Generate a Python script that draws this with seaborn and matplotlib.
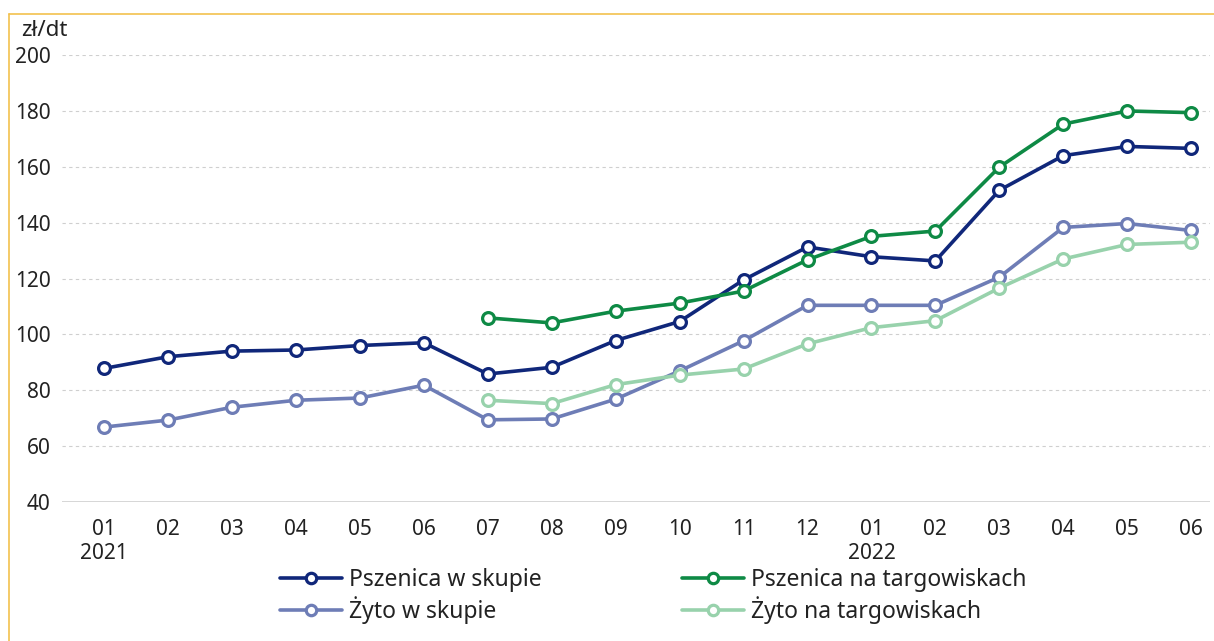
import numpy as np
import pandas as pd
import matplotlib
matplotlib.use("Agg")
import matplotlib.pyplot as plt
import seaborn as sns
from matplotlib.lines import Line2D

months = ["01", "02", "03", "04", "05", "06", "07", "08", "09", "10", "11", "12",
          "01", "02", "03", "04", "05", "06"]
years = {0: "2021", 12: "2022"}

pszenica_skup = [87.8, 92.0, 94.0, 94.4, 96.0, 97.0, 85.8, 88.2, 97.8, 104.6, 119.5, 131.3,
                 127.8, 126.3, 151.6, 164.0, 167.3, 166.6]
pszenica_targ = [np.nan] * 6 + [105.9, 104.1, 108.3, 111.2, 115.5, 126.7,
                                 135.1, 137.0, 159.9, 175.3, 180.0, 179.4]
zyto_skup = [66.8, 69.3, 73.9, 76.4, 77.2, 81.8, 69.4, 69.7, 76.8, 86.9, 97.7, 110.4,
             110.4, 110.4, 120.5, 138.3, 139.7, 137.2]
zyto_targ = [np.nan] * 6 + [76.4, 75.2, 82.0, 85.4, 87.6, 96.6,
                             102.4, 104.9, 116.6, 127.0, 132.2, 133.0]

series_names = ["Pszenica w skupie", "Pszenica na targowiskach", "Żyto w skupie", "Żyto na targowiskach"]
series_vals = [pszenica_skup, pszenica_targ, zyto_skup, zyto_targ]
colors = ["#10277A", "#0E8A45", "#6E7DB6", "#98D2AC"]

rows = []
for name, vals in zip(series_names, series_vals):
    for i, v in enumerate(vals):
        if not np.isnan(v):
            rows.append({"x": i, "val": v, "series": name})
df = pd.DataFrame(rows)

sns.set_theme(style="white")
plt.rcParams["font.family"] = ["Noto Sans", "DejaVu Sans"]

fig = plt.figure(figsize=(12.14, 6.41), dpi=100)
ax = fig.add_axes([0.051, 0.217, 0.946, 0.697])

sns.lineplot(data=df, x="x", y="val", hue="series", hue_order=series_names,
             palette=colors, ax=ax, linewidth=2.6, marker="o", markersize=8.5,
             markerfacecolor="white", markeredgewidth=2.3, legend=False)
for line, c in zip(ax.lines, colors):
    line.set_markeredgecolor(c)

ax.set_xlim(-0.66, 17.3)
ax.set_ylim(40, 200)
ax.set_yticks(range(40, 201, 20))
for yv in range(60, 201, 20):
    ax.axhline(yv, color="#cfcfcf", lw=0.8, ls=(0, (3, 3)), zorder=0)
ax.axhline(40, color="#d0d0d0", lw=1.2, zorder=0)

labels = [m + ("\n" + years[i] if i in years else "") for i, m in enumerate(months)]
ax.set_xticks(range(len(months)))
ax.set_xticklabels(labels, fontsize=15, color="#222222", linespacing=1.2, va="top")
ax.tick_params(axis="x", length=0, pad=12)
ax.tick_params(axis="y", length=0, pad=8, labelsize=15, labelcolor="#222222")
for lbl in ax.get_xticklabels():
    lbl.set_horizontalalignment("center")
ax.set_xlabel("")
ax.set_ylabel("")
for s in ax.spines.values():
    s.set_visible(False)

fig.text(0.017, 0.952, "zł/dt", fontsize=16, color="#222222", va="center")

handles = [Line2D([], [], color=c, lw=2.6, marker="o", markersize=7.5,
                  markerfacecolor="white", markeredgecolor=c, markeredgewidth=2.3)
           for c in colors]
fs = 16.5
for col, x0 in ((0, 280 / 1214), (1, 682 / 1214)):
    idx = [col, col + 2]
    leg = fig.legend([handles[i] for i in idx], [series_names[i] for i in idx],
                     ncol=1, loc="center left", bbox_to_anchor=(x0, 1 - 596 / 641),
                     frameon=False, fontsize=fs, handlelength=2.7, handletextpad=0.3,
                     labelspacing=0.15, borderpad=0, borderaxespad=0)
    for t in leg.get_texts():
        t.set_color("#222222")

# golden frame lines (top and left)
fig.add_artist(Line2D([9 / 1214, 1.0], [1 - 14 / 641, 1 - 14 / 641], color="#F2C14E", lw=1.2,
                      transform=fig.transFigure))
fig.add_artist(Line2D([9 / 1214, 9 / 1214], [0.0, 1 - 14 / 641], color="#F2C14E", lw=1.2,
                      transform=fig.transFigure))

fig.savefig("out.png", dpi=100, facecolor="white")
